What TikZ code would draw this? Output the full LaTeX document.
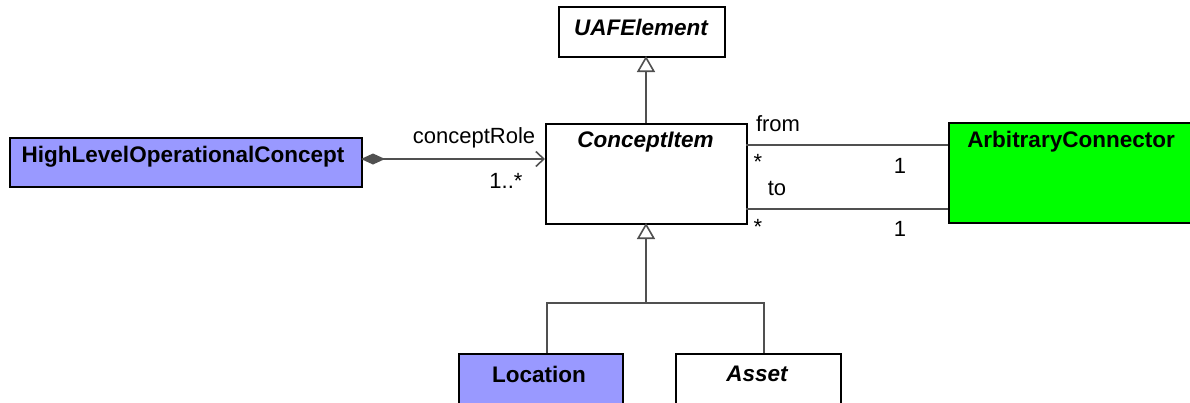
\documentclass[tikz,border=0pt]{standalone}
\usepackage{fontspec}
\setmainfont{Liberation Sans}
\usetikzlibrary{arrows.meta}
\definecolor{lav}{HTML}{9999FF}
\definecolor{grn}{HTML}{00FF00}
\definecolor{ln}{HTML}{505050}
\tikzset{
  cls/.style={draw=black, line width=1.5pt, anchor=north west, inner sep=0pt},
  ttl/.style={font=\fontsize{22.5}{25}\selectfont\bfseries, anchor=center, inner sep=0pt},
  lbl/.style={font=\fontsize{22}{25}\selectfont, inner sep=0pt},
  conn/.style={draw=ln, line width=1.6pt},
  gen/.style={conn, -{Triangle[open, length=16pt, width=18pt, fill=white]}},
}
\begin{document}
\begin{tikzpicture}[x=1pt,y=-1pt]
\useasboundingbox (0,0) rectangle (1190,402);
% boxes
\node[cls, minimum width=166pt, minimum height=50pt] (uaf) at (558,6) {};
\node[ttl] at (641,27) {\itshape UAFElement};
\node[cls, minimum width=201pt, minimum height=100pt] (ci) at (545,123) {};
\node[ttl] at (645.5,142) {\itshape ConceptItem};
\node[cls, fill=lav, minimum width=352pt, minimum height=49pt] (hl) at (9,137) {};
\node[ttl] at (183,157) {HighLevelOperationalConcept};
\node[cls, fill=grn, minimum width=250pt, minimum height=100pt] (ac) at (948,122) {};
\node[ttl] at (1071,142) {ArbitraryConnector};
\node[cls, fill=lav, minimum width=164pt, minimum height=60pt] (loc) at (458,353) {};
\node[ttl] at (539,374) {Location};
\node[cls, minimum width=165pt, minimum height=60pt] (as) at (675,353) {};
\node[ttl] at (757,374) {\itshape Asset};
% composition
\coordinate (hlr) at (361,159);
\coordinate (cil) at (545,159);
\draw[conn, {Diamond[length=24pt, width=11pt, fill=ln]}-{Straight Barb[length=8pt, width=15pt]}] (hlr) -- (cil);
\node[lbl] at (474,138) {conceptRole};
\node[lbl] at (506,181) {1..*};
% generalization UAF
\coordinate (cit) at (646,123);
\coordinate (uab) at (646,56);
\draw[gen] (cit) -- (uab);
% from / to
\coordinate (f1) at (746,145); \coordinate (f2) at (948,145);
\coordinate (t1) at (746,209); \coordinate (t2) at (948,209);
\draw[conn] (f1) -- (f2);
\draw[conn] (t1) -- (t2);
\node[lbl] at (778,124) {from};
\node[lbl] at (777,188) {to};
\node[lbl] at (758,162) {*};
\node[lbl] at (758,227) {*};
\node[lbl] at (900,166) {1};
\node[lbl] at (900,229) {1};
% generalization lower
\coordinate (j) at (646,303);
\coordinate (cib) at (646,223);
\coordinate (jl) at (547,303);
\coordinate (jr) at (764,303);
\draw[gen] (j) -- (cib);
\draw[conn] (loc.north -| jl) |- (jr) -- (as.north -| jr);
\end{tikzpicture}
\end{document}
